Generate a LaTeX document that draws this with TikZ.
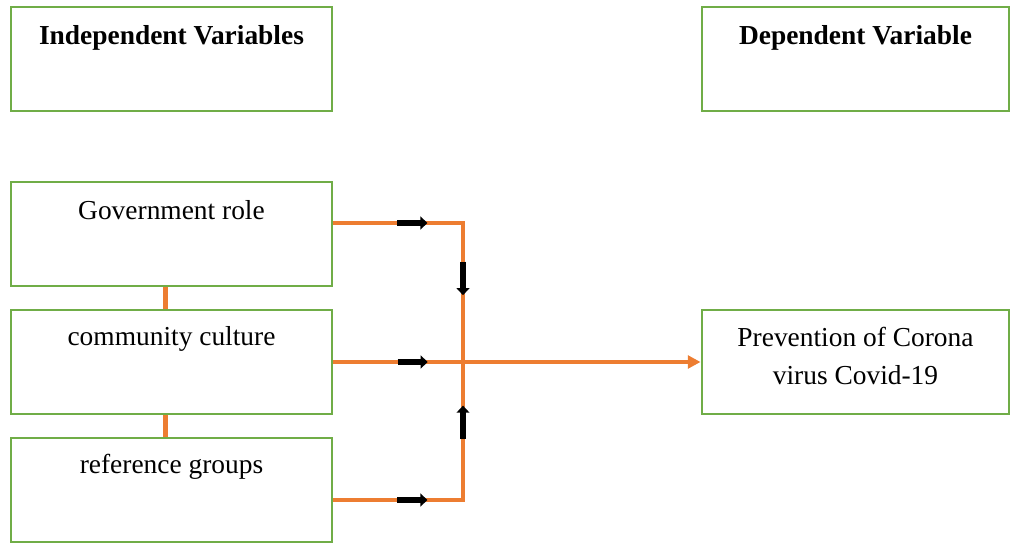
\documentclass[tikz,border=0pt]{standalone}
\usepackage{fontspec}
\setmainfont{Liberation Serif}
\usetikzlibrary{arrows.meta,positioning,calc}
\definecolor{vargreen}{RGB}{112,173,71}
\definecolor{linkorange}{RGB}{237,125,49}
\tikzset{
  varbox/.style={draw=vargreen,line width=2pt,minimum width=8.025cm,minimum height=2.6cm,inner sep=0pt},
  vartext/.style={font=\fontsize{19.5}{27}\selectfont,align=center,inner sep=0pt},
  link/.style={draw=linkorange,line width=2.4pt},
  flowmark/.style={line width=4pt,-{Triangle[length=5pt,width=9pt]}}
}
\begin{document}
\begin{tikzpicture}[x=0.025cm,y=-0.025cm]
  \useasboundingbox (0,0) rectangle (1012,544);
  % header boxes
  \node[varbox] (indep) at (171.5,59) {};
  \node[vartext] at ([yshift=-0.8cm]indep.north) {\textbf{Independent Variables}};
  \node[varbox,minimum width=7.675cm] (dep) at (855.5,59) {};
  \node[vartext] at ([yshift=-0.8cm]dep.north) {\textbf{Dependent Variable}};
  % independent variables
  \node[varbox] (gov) at (171.5,234) {};
  \node[vartext] at ([yshift=-0.75cm]gov.north) {Government role};
  \node[varbox] (comm) at (171.5,362) {};
  \node[vartext] at ([yshift=-0.75cm]comm.north) {community culture};
  \node[varbox] (ref) at (171.5,490) {};
  \node[vartext] at ([yshift=-0.75cm]ref.north) {reference groups};
  % dependent variable
  \node[varbox,minimum width=7.675cm] (prev) at (855.5,362) {};
  \node[vartext] at ([yshift=-1.18cm]prev.north) {Prevention of Corona\\virus Covid-19};
  % links
  \draw[link,line width=3.5pt] ([xshift=-0.15cm]gov.south) -- ([xshift=-0.15cm]comm.north);
  \draw[link,line width=3.5pt] ([xshift=-0.15cm]comm.south) -- ([xshift=-0.15cm]ref.north);
  \coordinate (jtop) at (463,223);
  \coordinate (jbot) at (463,500);
  \draw[link] (gov.east |- jtop) -- coordinate[pos=0.61] (mgov) (jtop)
    -- coordinate[pos=0.2] (mdown) coordinate[pos=0.72] (mup) (jbot)
    -- coordinate[pos=0.39] (mref) (ref.east |- jbot);
  \draw[link,-{Triangle[length=9pt,width=9pt]}] (comm.east) -- coordinate[pos=0.216] (mcomm) (prev.west);
  % direction marks
  \draw[flowmark] ([xshift=-0.375cm]mgov) -- ([xshift=0.375cm]mgov);
  \draw[flowmark] ([xshift=-0.375cm]mcomm) -- ([xshift=0.375cm]mcomm);
  \draw[flowmark] ([xshift=-0.375cm]mref) -- ([xshift=0.375cm]mref);
  \draw[flowmark] ([yshift=0.42cm]mdown) -- ([yshift=-0.42cm]mdown);
  \draw[flowmark] ([yshift=-0.42cm]mup) -- ([yshift=0.42cm]mup);
\end{tikzpicture}
\end{document}
